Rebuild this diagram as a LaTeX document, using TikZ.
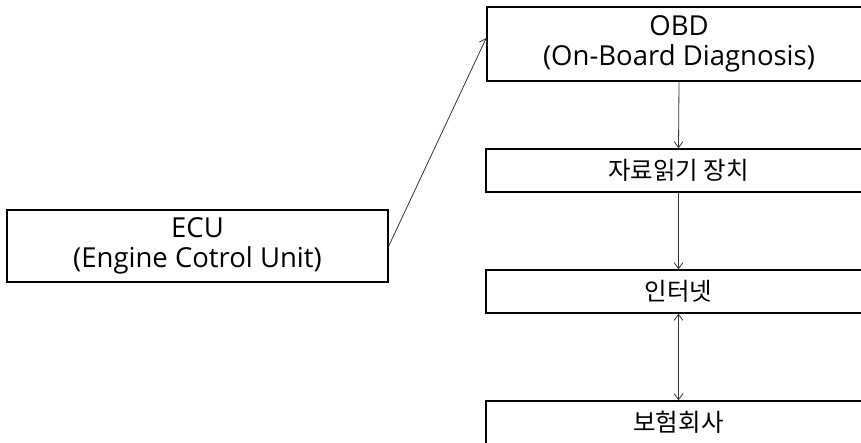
\documentclass[tikz,border=0pt]{standalone}
\usepackage{fontspec}
\setmainfont{Open Sans}
\newfontfamily\krfont{Noto Sans CJK KR}
\usetikzlibrary{arrows.meta}
\begin{document}
\begin{tikzpicture}[x=1pt,y=-1pt,
  box/.style={draw=black, line width=1.5pt, inner sep=0pt, font=\fontsize{27.5}{30}\selectfont, align=center},
  krbox/.style={box, font=\krfont\fontsize{24.5}{28}\selectfont},
  conn/.style={draw=black!80, line width=0.8pt, -{Straight Barb[length=6pt,width=9pt]}},
  conn2/.style={draw=black!80, line width=0.8pt, {Straight Barb[length=6pt,width=9pt]}-{Straight Barb[length=6pt,width=9pt]}}]
\useasboundingbox (0,0) rectangle (861,443);
\clip (0,0) rectangle (861,443);
\node[box, minimum width=384pt, minimum height=74pt] (obd) at (679,44) {OBD\\(On-Board Diagnosis)};
\node[krbox, minimum width=385pt, minimum height=43pt] (rd) at (678.5,170.5) {자료읽기 장치};
\node[krbox, minimum width=385pt, minimum height=43pt] (inet) at (678.5,291.5) {인터넷};
\node[krbox, minimum width=385pt, minimum height=43pt] (ins) at (678.5,422.5) {보험회사};
\node[box, minimum width=381pt, minimum height=72pt] (ecu) at (197.5,246) {ECU\\(Engine Cotrol Unit)};
\draw[conn] (ecu.east) -- ([yshift=6pt]obd.west);
\draw[conn] (obd.south) -- (rd.north);
\draw[conn] (rd.south) -- (inet.north);
\draw[conn2] (inet.south) -- (ins.north);
\end{tikzpicture}
\end{document}
